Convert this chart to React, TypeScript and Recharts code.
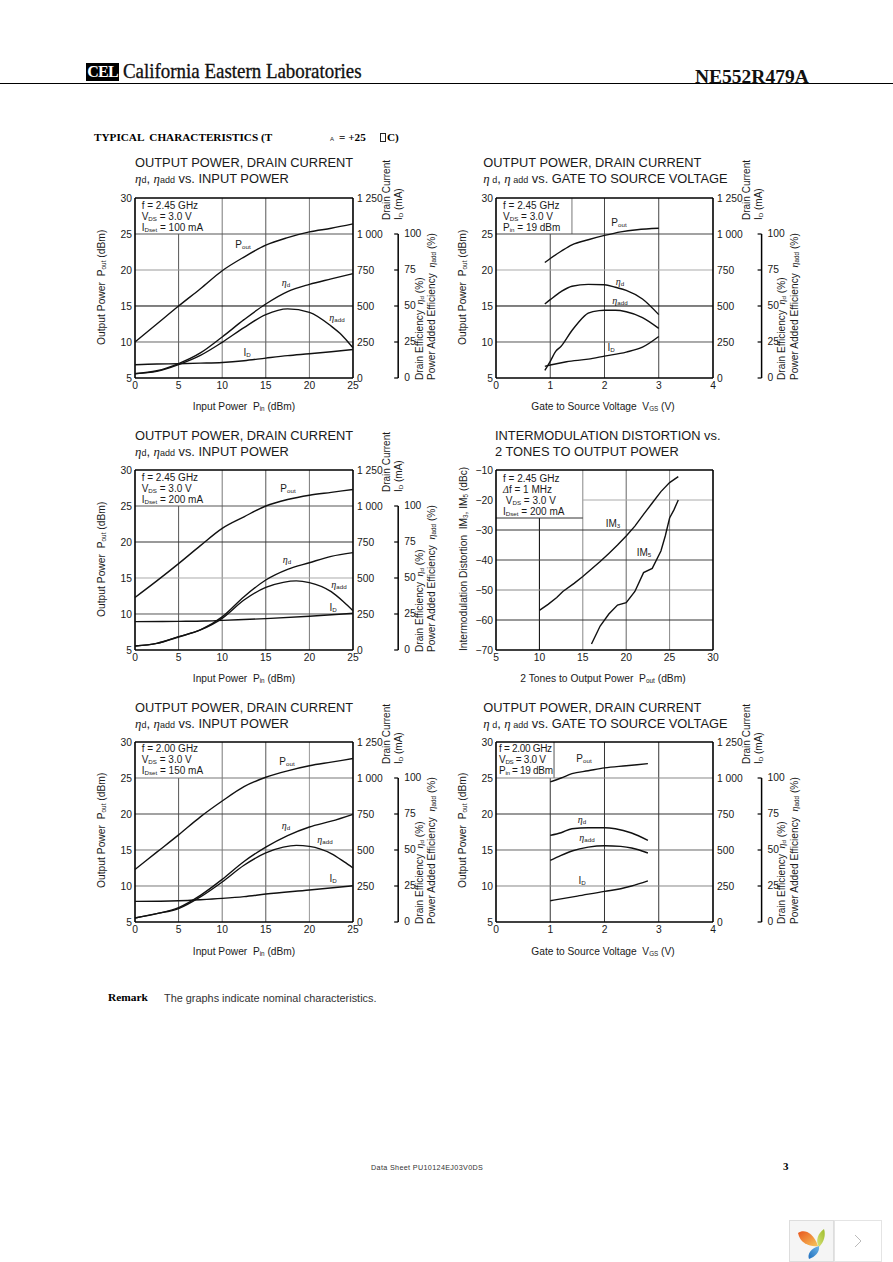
import React from 'react';
import { LineChart, Line, XAxis, YAxis, ReferenceLine } from 'recharts';

// ---- Chart 1 (f=2.45 GHz, Idset=100 mA)
const c1X = [0, 2.5, 5, 7.5, 10, 12.5, 15, 17.5, 20, 22.5, 25];
const c1Pout = [10, 12.5, 15, 17.4, 19.9, 21.8, 23.45, 24.5, 25.3, 25.8, 26.4];
const c1Nd = [3, 5, 10, 17.4, 28.5, 40.5, 51.4, 60, 65, 68.8, 72.5];
const c1NaddX = [0, 2.5, 5, 7.5, 10, 12.5, 15, 17.5, 20, 22.5, 23.5, 24.5, 25];
const c1Nadd = [3, 4.6, 9.3, 15.7, 24.8, 35, 44, 48, 45.6, 36, 31, 24.5, 21];
const c1Id = [92, 97, 99, 103, 108, 120, 138, 155, 168, 182, 198];
// ---- Chart 2 (Vgs sweep, Pin=19 dBm)
const c2PoutX = [0.9, 1, 1.2, 1.4, 1.7, 2, 2.3, 2.6, 3];
const c2Pout = [21.05, 21.6, 22.6, 23.5, 24.2, 24.8, 25.3, 25.6, 25.8];
const c2NdX = [0.9, 1, 1.2, 1.4, 1.7, 2, 2.2, 2.4, 2.7, 3];
const c2Nd = [51.4, 54.4, 60, 63.7, 65, 64.8, 63, 60.9, 54.9, 44];
const c2NaddX = [0.9, 1, 1.1, 1.2, 1.4, 1.5, 1.7, 1.9, 2, 2.2, 2.4, 2.7, 3];
const c2Nadd = [5.3, 11.6, 18.5, 22, 33, 37.7, 45, 46.8, 47, 47, 46, 42, 34.5];
const c2IdX = [0.9, 1, 1.3, 1.7, 2, 2.4, 2.7, 3];
const c2Id = [81, 90, 113, 131, 152, 180, 214, 288];
// ---- Chart 3 (f=2.45 GHz, Idset=200 mA)
const c3X = [0, 2.5, 5, 7.5, 10, 12.5, 15, 17.5, 20, 22.5, 25];
const c3Pout = [12.3, 14.6, 17, 19.5, 21.9, 23.5, 25, 25.9, 26.5, 26.9, 27.3];
const c3Nd = [2.8, 4.6, 9.3, 13.9, 23, 37, 48.6, 56, 60.6, 65, 67.6];
const c3NaddX = [0, 2.5, 5, 7.5, 10, 12.5, 15, 17, 18.5, 20, 22.5, 24, 25];
const c3Nadd = [2.8, 4.6, 9, 13.9, 22, 34.7, 43.5, 47, 48, 46.8, 40.5, 33, 27.3];
const c3IdX = [0, 5, 8, 10, 15, 20, 25];
const c3Id = [197, 199, 201, 206, 218, 234, 255];
// ---- Chart 4 (intermodulation distortion)
const c4Im3X = [10, 11, 12, 12.7, 14, 15, 16, 17, 18, 19, 20, 21, 22, 23, 24, 25, 26];
const c4Im3 = [-56.8, -54.8, -52.5, -50.5, -47.8, -45.5, -43, -40.5, -37.8, -35, -32, -28.7, -24.8, -21, -17.2, -14.2, -12.2];
const c4Im5X = [16, 17, 18, 19, 20, 21, 22, 23, 24, 24.5, 25, 25.5, 26];
const c4Im5 = [-68, -62, -58, -55, -54.2, -50.5, -44.2, -42.8, -37, -32, -26, -23.3, -20];
// ---- Chart 5 (f=2.00 GHz, Idset=150 mA)
const c5X = [0, 2.5, 5, 7.5, 10, 12.5, 15, 17.5, 20, 22.5, 25];
const c5Pout = [12.3, 14.7, 17.1, 19.6, 21.8, 23.8, 25.1, 26, 26.7, 27.2, 27.7];
const c5Nd = [2.8, 5.8, 10, 18.5, 29.6, 42, 52, 60, 66, 70, 74.8];
const c5NaddX = [0, 2.5, 5, 7.5, 10, 12.5, 15, 17, 18.5, 20, 22.5, 24, 25];
const c5Nadd = [2.8, 5.8, 9.3, 17.4, 27.8, 39.4, 48, 52, 53.2, 52.5, 47.5, 41.7, 37.5];
const c5IdX = [0, 5, 7.5, 10, 12.5, 15, 20, 25];
const c5Id = [143, 148, 155, 164, 176, 194, 222, 252];
// ---- Chart 6 (Vgs sweep, f=2.00 GHz)
const c6PoutX = [1, 1.2, 1.4, 1.7, 2, 2.4, 2.8];
const c6Pout = [24.45, 25, 25.6, 26, 26.4, 26.7, 27];
const c6EtaX = [1, 1.2, 1.4, 1.7, 2, 2.2, 2.5, 2.8];
const c6Nd = [60.2, 62, 64.8, 65.5, 65.5, 64.8, 61.8, 56.7];
const c6NaddX = [1, 1.2, 1.4, 1.7, 2, 2.3, 2.5, 2.8];
const c6Nadd = [42.8, 46.3, 49.3, 52, 53, 52.5, 51.4, 47.9];
const c6IdX = [1, 1.5, 2, 2.3, 2.5, 2.8];
const c6Id = [148, 180, 213, 231, 250, 285];

// ---- Axis ticks
const pinTicks = [0, 5, 10, 15, 20, 25];
const vgsTicks = [0, 1, 2, 3, 4];
const poutTicks = [5, 10, 15, 20, 25, 30];
const idTicks = [0, 250, 500, 750, 1000, 1250];
const effTicks = [0, 25, 50, 75, 100];
const im4XTicks = [5, 10, 15, 20, 25, 30];
const im4YTicks = [-70, -60, -50, -40, -30, -20, -10];

// ---- Grid segments: [value, from, to, colour]
type Seg = [number, number, number, string];
const c1V: Seg[] = [[5, 5, 25, '#555'], [10, 5, 30, '#777'], [15, 5, 30, '#555'], [20, 5, 30, '#777']];
const c1H: Seg[] = [[25, 0, 25, '#555'], [20, 0, 25, '#999'], [15, 0, 25, '#000'], [10, 0, 25, '#666']];
const c2V: Seg[] = [[1, 5, 25, '#444'], [1.4, 25, 30, '#777'], [2, 5, 30, '#444'], [3, 5, 30, '#444']];
const c2H: Seg[] = [[25, 0, 4, '#444'], [20, 0, 4, '#aaa'], [15, 0, 4, '#000'], [10, 0, 4, '#555']];
const c3V: Seg[] = [[5, 5, 25, '#555'], [10, 5, 30, '#777'], [15, 5, 30, '#555'], [20, 5, 30, '#777']];
const c3H: Seg[] = [[25, 0, 25, '#555'], [20, 0, 25, '#333'], [15, 0, 25, '#aaa'], [10, 0, 25, '#555']];
const c4V: Seg[] = [[10, -70, -26, '#000'], [15, -70, -10, '#888'], [20, -70, -10, '#666'], [25, -70, -10, '#888']];
const c4H: Seg[] = [[-26, 5, 15, '#333'], [-20, 15, 30, '#aaa'], [-30, 5, 30, '#333'], [-40, 5, 30, '#444'], [-50, 5, 30, '#888'], [-60, 5, 30, '#333']];
const c5V: Seg[] = [[5, 5, 25, '#555'], [10, 5, 30, '#777'], [15, 5, 30, '#555'], [20, 5, 30, '#999']];
const c5H: Seg[] = [[25, 0, 25, '#777'], [20, 0, 25, '#444'], [15, 0, 25, '#777'], [10, 0, 25, '#777']];
const c6V: Seg[] = [[1, 5, 25, '#333'], [1.07, 25, 30, '#555'], [2, 5, 30, '#333'], [3, 5, 30, '#333']];
const c6H: Seg[] = [[25, 0, 4, '#888'], [20, 0, 4, '#333'], [15, 0, 4, '#666'], [10, 0, 4, '#888']];

const pts = (xs: number[], ys: number[]) => xs.map((x, i) => ({ x, y: ys[i] }));
const SANS = '"Liberation Sans", Arial, sans-serif';
const SERIF = '"Liberation Serif", "Times New Roman", serif';
const INK = '#1a1a1a';

type TProps = { x: number; y: number; size?: number; rot?: boolean; anchor?: 'start' | 'middle' | 'end'; font?: string; bold?: boolean; color?: string; sx?: number; ls?: number; children: React.ReactNode };
function T({ x, y, size = 10, rot, anchor = 'start', font = SANS, bold, color = INK, sx, ls, children }: TProps) {
  const tx = anchor === 'middle' ? '-50%' : anchor === 'end' ? '-100%' : '0';
  const transform = rot
    ? 'translateY(-50%) rotate(-90deg)'
    : `translate(${tx}, -50%)${sx ? ` scaleX(${sx})` : ''}`;
  return (
    <div
      style={{
        position: 'absolute', left: x, top: y, fontSize: size, fontFamily: font,
        fontWeight: bold ? 700 : 400, color, whiteSpace: 'pre', lineHeight: 1,
        transform, transformOrigin: rot ? '0 50%' : sx ? '0 50%' : undefined, letterSpacing: ls,
      }}
    >
      {children}
    </div>
  );
}
const Sub = ({ c, s = 0.62 }: { c: string; s?: number }) => (
  <span style={{ fontSize: `${s}em`, verticalAlign: '-0.12em' }}>{c}</span>
);
const Eta = ({ c }: { c: string }) => (
  <>
    <span style={{ fontFamily: SERIF, fontStyle: 'italic' }}>η</span>
    <Sub c={c} />
  </>
);

const EffTick = (props: any) => {
  const { x, y, payload, step } = props;
  return (
    <g>
      <line x1={x - 4} x2={x} y1={y} y2={y} stroke="#000" strokeWidth={1.2} />
      {payload.value < 100 && <line x1={x} x2={x} y1={y} y2={y - step} stroke="#000" strokeWidth={1.5} />}
      <text x={x + 6} y={y + 3.5} fontSize={10.3} fontFamily={SANS} fill={INK}>{payload.value}</text>
    </g>
  );
};

type Curve = { axis: 'l' | 'a' | 'b'; data: { x: number; y: number }[]; name: string };
type ChartProps = {
  left: number; top: number; w: number; h: number;
  xDomain: [number, number]; xTicks: number[];
  yDomain: [number, number]; yTicks: number[];
  vSeg: Seg[]; hSeg: Seg[]; curves: Curve[];
  effOffset?: number; smooth?: boolean;
};
function Chart({ left, top, w, h, xDomain, xTicks, yDomain, yTicks, vSeg, hSeg, curves, effOffset, smooth = true }: ChartProps) {
  const LW = 45, MT = 10, BH = 25;
  const tickStyle = { fontSize: 10.3, fontFamily: SANS, fill: INK };
  const total = w + LW + (effOffset ? effOffset + 50 : 0);
  const fmt = (v: number) => (v < 0 ? `−${-v}` : String(v));
  const idFmt = (v: number) => (v >= 1000 ? `1 ${String(v).slice(1)}` : String(v));
  const seg = (k: string, p: any[], stroke: string, width = 1) => (
    <ReferenceLine key={k} xAxisId="x" yAxisId="l" segment={p} stroke={stroke} strokeWidth={width} />
  );
  return (
    <div style={{ position: 'absolute', left: left - LW, top: top - MT }}>
      <LineChart width={total + (effOffset ? 0 : 20)} height={h + MT + BH} margin={{ top: MT, left: 0, right: effOffset ? 0 : 20, bottom: 0 }}>
        <XAxis xAxisId="x" dataKey="x" type="number" domain={xDomain} ticks={xTicks} allowDuplicatedCategory={false}
          axisLine={false} tickLine={false} tickSize={0} tickMargin={4} height={BH} tick={tickStyle} interval={0} />
        <YAxis yAxisId="l" orientation="left" type="number" domain={yDomain} ticks={yTicks} width={LW}
          axisLine={false} tickLine={false} tickSize={0} tickMargin={3} tick={tickStyle} interval={0} tickFormatter={fmt} />
        {effOffset != null && (
          <YAxis yAxisId="b" orientation="right" type="number" domain={[0, 125]} ticks={effTicks} width={50}
            axisLine={false} tickLine={false} tickSize={0} interval={0}
            tick={(p: any) => <EffTick {...p} step={(h * 25) / 125} />} />
        )}
        {effOffset != null && (
          <YAxis yAxisId="a" orientation="right" type="number" domain={[0, 1250]} ticks={idTicks} width={effOffset}
            axisLine={false} tickLine={false} tickSize={0} tickMargin={4} tick={tickStyle} interval={0} tickFormatter={idFmt} />
        )}
        {vSeg.map(([v, a, b, c]) => seg(`v${v}`, [{ x: v, y: a }, { x: v, y: b }], c))}
        {hSeg.map(([v, a, b, c]) => seg(`h${v}`, [{ x: a, y: v }, { x: b, y: v }], c))}
        {seg('fb', [{ x: xDomain[0], y: yDomain[0] }, { x: xDomain[1], y: yDomain[0] }], '#000', 1.6)}
        {seg('ft', [{ x: xDomain[0], y: yDomain[1] }, { x: xDomain[1], y: yDomain[1] }], '#000', 1.6)}
        {seg('fl', [{ x: xDomain[0], y: yDomain[0] }, { x: xDomain[0], y: yDomain[1] }], '#000', 1.6)}
        {seg('fr', [{ x: xDomain[1], y: yDomain[0] }, { x: xDomain[1], y: yDomain[1] }], '#000', 1.6)}
        {curves.map((c) => (
          <Line key={c.name} name={c.name} xAxisId="x" yAxisId={c.axis} data={c.data} dataKey="y"
            type={smooth ? 'monotone' : 'linear'} stroke="#111" strokeWidth={1.4} dot={false} activeDot={false} isAnimationActive={false} />
        ))}
      </LineChart>
    </div>
  );
}

const OutLabels = ({ lx, ly, rx, top, xTitle, xCx, xCy, idx, effx1, effx2 }: any) => (
  <>
    <T x={lx} y={ly} rot size={10.3}>Output Power  P<Sub c="out" /> (dBm)</T>
    <T x={xCx} y={xCy} anchor="middle" size={10.2}>{xTitle}</T>
    <T x={rx} y={top + 22} rot size={10}>Drain Current</T>
    <T x={idx} y={top + 22} rot size={10}>I<Sub c="D" /> (mA)</T>
    <T x={effx1} y={top + 182} rot size={10.1}>Drain Efficiency  <Eta c="d" /> (%)</T>
    <T x={effx2} y={top + 182} rot size={10.2}>Power Added Efficiency  <Eta c="add" /> (%)</T>
  </>
);
const Title = ({ x, y1, y2, l1, l2 }: any) => (
  <>
    <T x={x} y={y1} size={12.85}>{l1}</T>
    <T x={x} y={y2} size={12.85}>{l2}</T>
  </>
);
const Eta2 = ({ gap }: { gap?: boolean }) => (
  <>
    <span style={{ fontFamily: SERIF, fontStyle: 'italic' }}>η</span>
    <span style={{ fontSize: '0.7em' }}>{gap ? ' d' : 'd'}</span>,{' '}
    <span style={{ fontFamily: SERIF, fontStyle: 'italic' }}>η</span>
    <span style={{ fontSize: '0.7em' }}>{gap ? ' add' : 'add'}</span>{' '}
  </>
);
const Cl = ({ x, y, children }: any) => <T x={x} y={y} anchor="middle" size={10}>{children}</T>;
const Inset = ({ x, ys, lines, ls }: any) => (
  <>
    {lines.map((l: any, i: number) => (
      <T key={i} x={x} y={ys[i]} size={10} ls={ls}>{l}</T>
    ))}
  </>
);

export default function App() {
  const L1 = 134.5, L2 = 495.5, W = 218, H = 180;
  const T1 = 198, T3 = 470, T5 = 742;
  const pinX = 'Input Power  ';
  const vgsX = 'Gate to Source Voltage  ';
  return (
    <div style={{ position: 'absolute', left: 0, top: 0, width: 893, height: 1262, background: '#fff', overflow: 'hidden' }}>
      {/* Page header */}
      <div style={{ position: 'absolute', left: 86, top: 63, width: 33, height: 18, background: '#000' }} />
      <T x={102.5} y={72} anchor="middle" size={16} font={SERIF} bold color="#fff" ls={-0.8}>CEL</T>
      <T x={123} y={71} size={22} font={SERIF} sx={0.86} color="#111"><span style={{ WebkitTextStroke: '0.35px #111' }}>California Eastern Laboratories</span></T>
      <T x={695} y={77.2} size={19.5} font={SERIF} bold color="#111">NE552R479A</T>
      <div style={{ position: 'absolute', left: 0, top: 83, width: 893, height: 1, background: '#000' }} />
      <T x={94} y={138} size={11.2} font={SERIF} bold color="#000">TYPICAL  CHARACTERISTICS (T</T>
      <T x={330} y={139} size={6}>A</T>
      <T x={339} y={138} size={11.2} font={SERIF} bold color="#000">= +25</T>
      <div style={{ position: 'absolute', left: 380, top: 133, width: 6, height: 9, border: '1px solid #222', boxSizing: 'border-box' }} />
      <T x={387} y={138} size={11.2} font={SERIF} bold color="#000">C)</T>

      {/* Chart 1 */}
      <Title x={135} y1={163} y2={178.5} l1="OUTPUT POWER, DRAIN CURRENT" l2={<><Eta2 />vs. INPUT POWER</>} />
      <Chart left={L1} top={T1} w={W} h={H} xDomain={[0, 25]} xTicks={pinTicks} yDomain={[5, 30]} yTicks={poutTicks}
        vSeg={c1V} hSeg={c1H} effOffset={43.2}
        curves={[
          { axis: 'l', data: pts(c1X, c1Pout), name: 'Pout' },
          { axis: 'b', data: pts(c1X, c1Nd), name: 'nd' },
          { axis: 'b', data: pts(c1NaddX, c1Nadd), name: 'nadd' },
          { axis: 'a', data: pts(c1X, c1Id), name: 'ID' },
        ]} />
      <OutLabels lx={102} ly={345} rx={386.7} idx={399} effx1={420} effx2={431.7} top={T1} xCx={244} xCy={407}
        xTitle={<>{pinX}P<Sub c="in" /> (dBm)</>} />
      <Inset x={141.7} ys={[206, 216.5, 227.5]} lines={['f = 2.45 GHz', <>V<Sub c="DS" /> = 3.0 V</>, <>I<Sub c="Dset" /> = 100 mA</>]} />
      <Cl x={243} y={245}>P<Sub c="out" /></Cl>
      <Cl x={286} y={283}><Eta c="d" /></Cl>
      <Cl x={337} y={318}><Eta c="add" /></Cl>
      <Cl x={247} y={353}>I<Sub c="D" /></Cl>

      {/* Chart 2 */}
      <Title x={483.3} y1={163} y2={178.5} l1="OUTPUT POWER, DRAIN CURRENT" l2={<><Eta2 gap />vs. GATE TO SOURCE VOLTAGE</>} />
      <Chart left={L2} top={T1} w={W - 1} h={H} xDomain={[0, 4]} xTicks={vgsTicks} yDomain={[5, 30]} yTicks={poutTicks}
        vSeg={c2V} hSeg={c2H} effOffset={46.6}
        curves={[
          { axis: 'l', data: pts(c2PoutX, c2Pout), name: 'Pout' },
          { axis: 'b', data: pts(c2NdX, c2Nd), name: 'nd' },
          { axis: 'b', data: pts(c2NaddX, c2Nadd), name: 'nadd' },
          { axis: 'a', data: pts(c2IdX, c2Id), name: 'ID' },
        ]} />
      <OutLabels lx={463} ly={345} rx={746.7} idx={759} effx1={782.3} effx2={795} top={T1} xCx={603} xCy={407}
        xTitle={<>{vgsX}V<Sub c="GS" /> (V)</>} />
      <Inset x={503} ys={[206, 216.5, 227.5]} lines={['f = 2.45 GHz', <>V<Sub c="DS" /> = 3.0 V</>, <>P<Sub c="in" /> = 19 dBm</>]} />
      <Cl x={619} y={223}>P<Sub c="out" /></Cl>
      <Cl x={620} y={282}><Eta c="d" /></Cl>
      <Cl x={620} y={301}><Eta c="add" /></Cl>
      <Cl x={611} y={348}>I<Sub c="D" /></Cl>

      {/* Chart 3 */}
      <Title x={135} y1={436} y2={451.7} l1="OUTPUT POWER, DRAIN CURRENT" l2={<><Eta2 />vs. INPUT POWER</>} />
      <Chart left={L1} top={T3} w={W} h={H} xDomain={[0, 25]} xTicks={pinTicks} yDomain={[5, 30]} yTicks={poutTicks}
        vSeg={c3V} hSeg={c3H} effOffset={43.2}
        curves={[
          { axis: 'l', data: pts(c3X, c3Pout), name: 'Pout' },
          { axis: 'b', data: pts(c3X, c3Nd), name: 'nd' },
          { axis: 'b', data: pts(c3NaddX, c3Nadd), name: 'nadd' },
          { axis: 'a', data: pts(c3IdX, c3Id), name: 'ID' },
        ]} />
      <OutLabels lx={102} ly={617} rx={386.7} idx={399} effx1={420} effx2={431.7} top={T3} xCx={244} xCy={679}
        xTitle={<>{pinX}P<Sub c="in" /> (dBm)</>} />
      <Inset x={141.7} ys={[478, 489, 500]} lines={['f = 2.45 GHz', <>V<Sub c="DS" /> = 3.0 V</>, <>I<Sub c="Dset" /> = 200 mA</>]} />
      <Cl x={288} y={489}>P<Sub c="out" /></Cl>
      <Cl x={287} y={560}><Eta c="d" /></Cl>
      <Cl x={339} y={585}><Eta c="add" /></Cl>
      <Cl x={333} y={608}>I<Sub c="D" /></Cl>

      {/* Chart 4 */}
      <Title x={495} y1={436} y2={451.7} l1="INTERMODULATION DISTORTION vs." l2="2 TONES TO OUTPUT POWER" />
      <Chart left={L2} top={T3} w={W - 1} h={H} xDomain={[5, 30]} xTicks={im4XTicks} yDomain={[-70, -10]} yTicks={im4YTicks}
        vSeg={c4V} hSeg={c4H} smooth={false}
        curves={[
          { axis: 'l', data: pts(c4Im3X, c4Im3), name: 'IM3' },
          { axis: 'l', data: pts(c4Im5X, c4Im5), name: 'IM5' },
        ]} />
      <T x={463.5} y={651} rot size={10.2}>Intermodulation Distortion  IM<Sub c="3" />, IM<Sub c="5" /> (dBc)</T>
      <T x={603} y={679} anchor="middle" size={10.3}>2 Tones to Output Power  P<Sub c="out" /> (dBm)</T>
      <Inset x={503} ys={[479, 489.5, 500.7, 511.7]} lines={['f = 2.45 GHz', <><span style={{ fontFamily: SERIF, fontStyle: 'italic' }}>Δ</span>f = 1 MHz</>, <> V<Sub c="DS" /> = 3.0 V</>, <>I<Sub c="Dset" /> = 200 mA</>]} />
      <Cl x={613} y={524}>IM<Sub c="3" /></Cl>
      <Cl x={644} y={553}>IM<Sub c="5" /></Cl>

      {/* Chart 5 */}
      <Title x={135} y1={708} y2={724} l1="OUTPUT POWER, DRAIN CURRENT" l2={<><Eta2 />vs. INPUT POWER</>} />
      <Chart left={L1} top={T5} w={W} h={H} xDomain={[0, 25]} xTicks={pinTicks} yDomain={[5, 30]} yTicks={poutTicks}
        vSeg={c5V} hSeg={c5H} effOffset={43.2}
        curves={[
          { axis: 'l', data: pts(c5X, c5Pout), name: 'Pout' },
          { axis: 'b', data: pts(c5X, c5Nd), name: 'nd' },
          { axis: 'b', data: pts(c5NaddX, c5Nadd), name: 'nadd' },
          { axis: 'a', data: pts(c5IdX, c5Id), name: 'ID' },
        ]} />
      <OutLabels lx={102} ly={888} rx={386.7} idx={399} effx1={420} effx2={431.7} top={T5} xCx={244} xCy={952}
        xTitle={<>{pinX}P<Sub c="in" /> (dBm)</>} />
      <Inset x={141.7} ys={[749, 760, 771]} lines={['f = 2.00 GHz', <>V<Sub c="DS" /> = 3.0 V</>, <>I<Sub c="Dset" /> = 150 mA</>]} />
      <Cl x={287} y={762}>P<Sub c="out" /></Cl>
      <Cl x={286} y={826}><Eta c="d" /></Cl>
      <Cl x={325} y={840}><Eta c="add" /></Cl>
      <Cl x={333} y={879}>I<Sub c="D" /></Cl>

      {/* Chart 6 */}
      <Title x={483.3} y1={708} y2={724} l1="OUTPUT POWER, DRAIN CURRENT" l2={<><Eta2 gap />vs. GATE TO SOURCE VOLTAGE</>} />
      <Chart left={L2} top={T5} w={W - 1} h={H} xDomain={[0, 4]} xTicks={vgsTicks} yDomain={[5, 30]} yTicks={poutTicks}
        vSeg={c6V} hSeg={c6H} effOffset={46.6}
        curves={[
          { axis: 'l', data: pts(c6PoutX, c6Pout), name: 'Pout' },
          { axis: 'b', data: pts(c6EtaX, c6Nd), name: 'nd' },
          { axis: 'b', data: pts(c6NaddX, c6Nadd), name: 'nadd' },
          { axis: 'a', data: pts(c6IdX, c6Id), name: 'ID' },
        ]} />
      <OutLabels lx={463} ly={888} rx={746.7} idx={759} effx1={782.3} effx2={795} top={T5} xCx={603} xCy={952}
        xTitle={<>{vgsX}V<Sub c="GS" /> (V)</>} />
      <Inset x={499} ls={-0.3} ys={[749, 760, 771]} lines={['f = 2.00 GHz', <>V<Sub c="DS" /> = 3.0 V</>, <>P<Sub c="in" /> = 19 dBm</>]} />
      <Cl x={584} y={759}>P<Sub c="out" /></Cl>
      <Cl x={582} y={820}><Eta c="d" /></Cl>
      <Cl x={587} y={838}><Eta c="add" /></Cl>
      <Cl x={582} y={881}>I<Sub c="D" /></Cl>

      {/* Footer */}
      <T x={108} y={998} size={11.4} font={SERIF} bold color="#000">Remark</T>
      <T x={164} y={997.5} size={10.9} color="#333">The graphs indicate nominal characteristics.</T>
      <T x={371} y={1168} size={7.2} color="#333" ls={0.35}>Data Sheet PU10124EJ03V0DS</T>
      <T x={783} y={1166} size={11} font={SERIF} bold color="#000">3</T>

      {/* Viewer badge */}
      <div style={{ position: 'absolute', left: 789, top: 1220, width: 45, height: 42, background: '#f5f5f5', border: '1px solid #ddd', boxSizing: 'border-box' }} />
      <div style={{ position: 'absolute', left: 834, top: 1220, width: 48, height: 42, background: '#fff', border: '1px solid #e4e4e4', boxSizing: 'border-box' }} />
      <svg style={{ position: 'absolute', left: 789, top: 1220 }} width={93} height={42}>
        <defs>
          <linearGradient id="po" x1="0" y1="0" x2="1" y2="1"><stop offset="0" stopColor="#e8561e" /><stop offset="1" stopColor="#f8c65a" /></linearGradient>
          <linearGradient id="pg" x1="1" y1="0" x2="0" y2="1"><stop offset="0" stopColor="#9cbc2a" /><stop offset="1" stopColor="#d9e27a" /></linearGradient>
          <linearGradient id="pb" x1="0" y1="1" x2="1" y2="0"><stop offset="0" stopColor="#1f6fbe" /><stop offset="1" stopColor="#6db4e6" /></linearGradient>
        </defs>
        <path d="M9 13 C15 9 24 12 29 26 C22 27 11 24 9 13 Z" fill="url(#po)" />
        <path d="M35 9 C37 15 35 22 30 27 C26 21 29 13 35 9 Z" fill="url(#pg)" />
        <path d="M30 26 C31 32 26 37 20 39 C18 34 22 28 30 26 Z" fill="url(#pb)" />
        <path d="M66 15 L72 21 L66 27" fill="none" stroke="#bbb" strokeWidth={1} />
      </svg>
    </div>
  );
}
